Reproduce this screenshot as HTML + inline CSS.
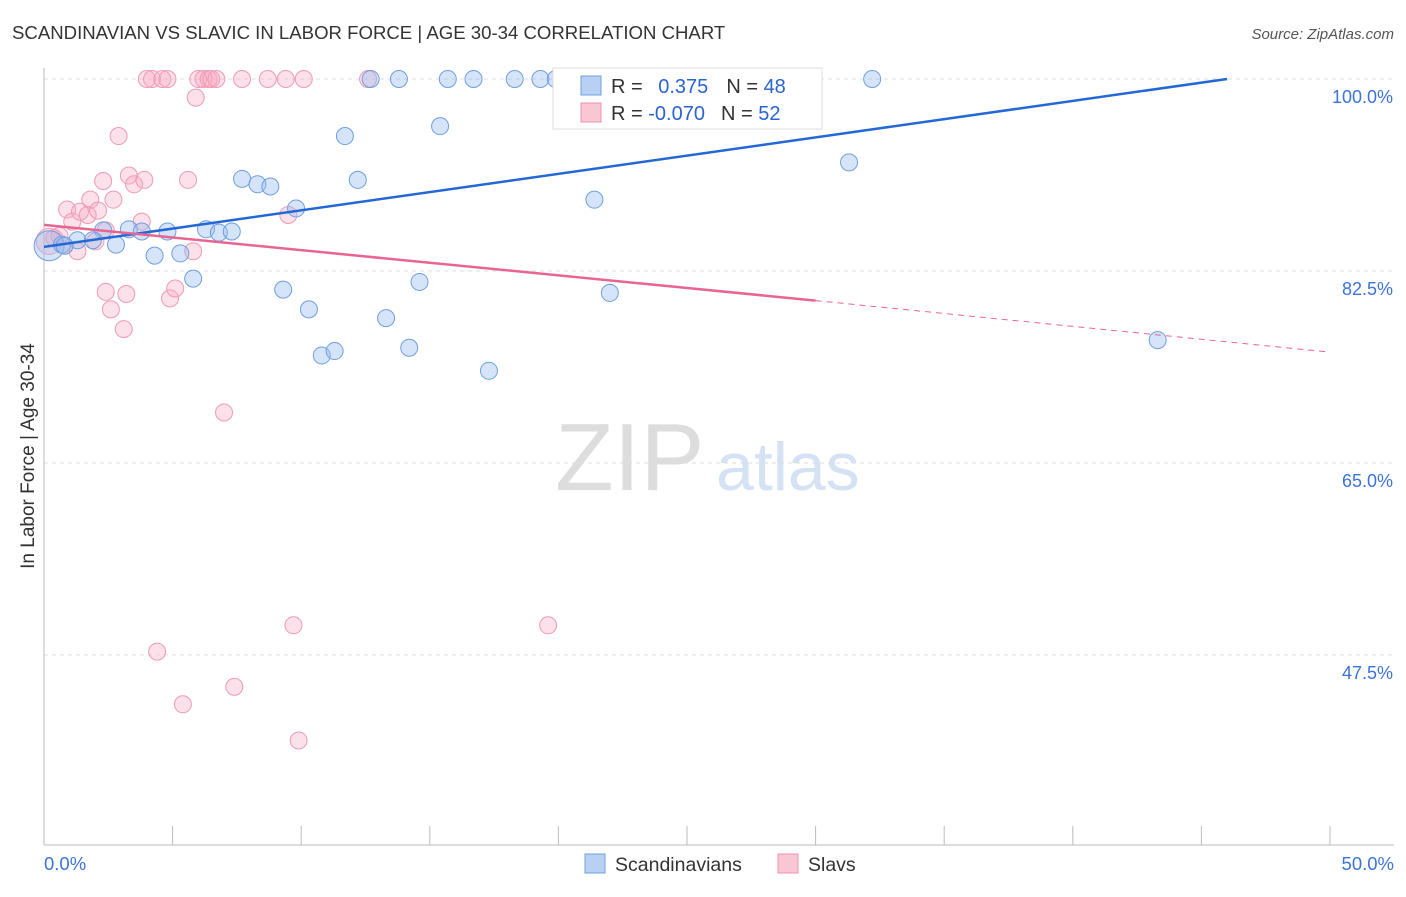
<!DOCTYPE html>
<html><head><meta charset="utf-8"><style>
body{margin:0;background:#fff;font-family:"Liberation Sans",sans-serif}
svg text{font-family:"Liberation Sans",sans-serif}
</style></head><body>
<svg id="c" width="1406" height="892">
<text x="12" y="39" font-size="18.6" fill="#333">SCANDINAVIAN VS SLAVIC IN LABOR FORCE | AGE 30-34 CORRELATION CHART</text>
<text x="1394" y="39" font-size="15" fill="#555" font-style="italic" text-anchor="end">Source: ZipAtlas.com</text>
<text transform="translate(34,456) rotate(-90)" font-size="19" fill="#333" text-anchor="middle">In Labor Force | Age 30-34</text>
<text x="555" y="490" font-size="96" fill="#ddd" font-family="Liberation Serif">ZIP</text>
<text x="716" y="490" font-size="68" fill="#d5e2f4">atlas</text>
<g id="grid"></g><g id="pts"></g><g id="lines"></g>
<g>
<rect x="553" y="68" width="269" height="61" fill="#fff" stroke="#ddd"/>
<rect x="581" y="76" width="20" height="19" fill="#b8d0f2" stroke="#6f9fe0"/>
<rect x="581" y="103" width="20" height="19" fill="#f9c6d4" stroke="#ee8fab"/>
<text x="611" y="93" font-size="20" fill="#333">R = <tspan fill="#2a64d0" dx="10">0.375</tspan><tspan fill="#333" dx="18">N = </tspan><tspan fill="#2a64d0">48</tspan></text>
<text x="611" y="120" font-size="20" fill="#333">R = <tspan fill="#2a64d0">-0.070</tspan><tspan fill="#333" dx="16">N = </tspan><tspan fill="#2a64d0">52</tspan></text>
</g>
<g>
<rect x="585" y="854" width="20" height="19" fill="#b8d0f2" stroke="#6f9fe0"/>
<text x="615" y="871" font-size="19.5" fill="#333">Scandinavians</text>
<rect x="778" y="854" width="20" height="19" fill="#f9c6d4" stroke="#ee8fab"/>
<text x="808" y="871" font-size="19.5" fill="#333">Slavs</text>
</g>
</svg>
<script>
const blueX=[0.2,0.7,1.3,2.3,2.8,3.3,3.8,4.3,4.8,5.3,5.8,6.3,6.8,7.3,7.7,8.3,8.8,9.3,9.8,10.3,10.8,11.3,11.7,12.2,12.7,13.3,13.8,14.2,14.6,15.4,15.7,16.7,17.3,18.3,19.3,20.2,20.7,21.4,22.0,22.9,26.1,28.2,31.3,32.2,43.3,0.8,1.9,19.9];
const blueY=[84.8,84.9,85.3,86.2,84.9,86.3,86.1,83.9,86.1,84.1,81.8,86.3,86.0,86.1,90.9,90.4,90.2,80.8,88.2,79.0,74.8,75.2,94.8,90.8,100,78.2,100,75.5,81.5,95.7,100,100,73.4,100,100,100,100,89.0,80.5,100,100,100,92.4,100,76.2,84.8,85.3,100];
const pinkX=[0.2,0.4,0.8,1.3,0.9,1.1,1.4,1.7,1.8,2.0,2.1,2.3,2.4,2.6,2.7,2.9,3.1,3.2,3.3,3.5,3.8,3.9,4.0,4.2,4.4,4.6,4.8,4.9,5.1,5.4,5.6,5.8,5.9,6.0,6.2,6.4,6.5,6.7,7.0,7.4,7.7,8.7,9.4,9.5,9.7,9.9,10.1,12.6,19.6,28.1,2.4,0.6];
const pinkY=[85.2,85.5,84.8,84.3,88.1,87.0,87.9,87.6,89.0,85.2,88.0,90.7,80.6,79.0,89.0,94.8,77.2,80.4,91.2,90.4,87.0,90.8,100,100,47.8,100,100,80.0,80.9,43.0,90.8,84.3,98.3,100,100,100,100,100,69.6,44.6,100,100,100,87.6,50.2,39.7,100,100,50.2,100,86.2,85.7];
const ticksY=[100,82.5,65,47.5];
const blueLine=[0,84.7,46,100];
const pinkLine=[0,86.7,30,79.8,50,75.1];
const X=v=>44+v*25.72, Y=v=>79+(100-v)*10.97;
const ns="http://www.w3.org/2000/svg";
function mk(p,t,a){const e=document.createElementNS(ns,t);for(const k in a)e.setAttribute(k,a[k]);document.getElementById(p).appendChild(e);return e;}
ticksY.forEach(t=>{
 const l=mk('grid','line',{x1:44,x2:1394,y1:Y(t),y2:Y(t),stroke:'#ddd','stroke-dasharray':'4,4'});
 
 
 const tx=mk('grid','text',{x:1393,y:Y(t)+24,'font-size':18,fill:'#3d73d6','text-anchor':'end'});
 tx.textContent=t.toFixed(1)+'%';
 
 
});
mk('grid','line',{x1:44,x2:44,y1:68,y2:845,stroke:'#bbb'});
mk('grid','line',{x1:44,x2:1394,y1:845,y2:845,stroke:'#bbb'});
for(let i=0;i<=10;i++){const t=mk('grid','line',{x1:X(i*5),x2:X(i*5),y1:826,y2:845,stroke:'#bbb'});
 
 }
[[0,'0.0%','start',44],[50,'50.0%','end',1394]].forEach(d=>{const t=mk('grid','text',{x:d[3],y:870,'font-size':18.5,fill:'#3d73d6','text-anchor':d[2]});t.textContent=d[1];
 
 });
pinkX.forEach((x,i)=>{const c=mk('pts','circle',{cx:X(x),cy:Y(pinkY[i]),r:i==0?13:8.5,fill:'rgba(246,170,194,0.35)',stroke:'#f09ab4','stroke-width':1});
 
 });
blueX.forEach((x,i)=>{const c=mk('pts','circle',{cx:X(x),cy:Y(blueY[i]),r:i==0?15:8.5,fill:'rgba(150,188,240,0.4)',stroke:'#6f9fe0','stroke-width':1});
 
 });
const bl=mk('lines','line',{x1:X(blueLine[0]),y1:Y(blueLine[1]),x2:X(blueLine[2]),y2:Y(blueLine[3]),stroke:'#2468d6','stroke-width':2.5});


const pl=mk('lines','line',{x1:X(pinkLine[0]),y1:Y(pinkLine[1]),x2:X(pinkLine[2]),y2:Y(pinkLine[3]),stroke:'#e86592','stroke-width':2.5});


const pd=mk('lines','line',{x1:X(pinkLine[2]),y1:Y(pinkLine[3]),x2:X(pinkLine[4]),y2:Y(pinkLine[5]),stroke:'#e86592','stroke-width':1,'stroke-dasharray':'6,5'});


</script>
</body></html>
